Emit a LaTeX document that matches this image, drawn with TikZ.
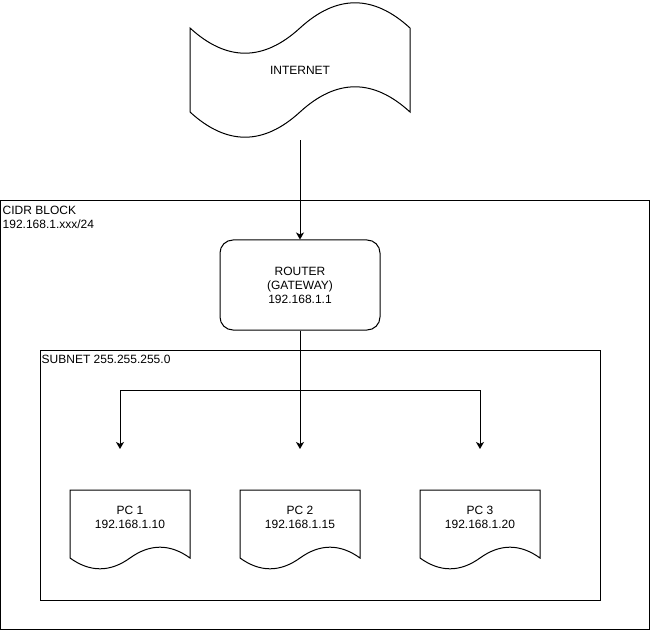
\documentclass[tikz,border=0pt]{standalone}
\usepackage{fontspec}
\setmainfont{Liberation Sans}
\usetikzlibrary{arrows.meta}
\tikzset{
  lbl/.style={font=\fontsize{12}{14}\selectfont, align=center, inner sep=0pt, text=black},
  lbll/.style={font=\fontsize{12}{14}\selectfont, align=left, inner sep=0pt, anchor=north west, text=black},
  frame/.style={draw=black, line width=1pt},
  conn/.style={draw=black, line width=1pt, -{Stealth[length=7pt,width=8pt,inset=2pt]}},
  plain/.style={draw=black, line width=1pt},
  routerbox/.style={draw=black, line width=1pt, rounded corners=13pt, minimum width=160pt, minimum height=90pt, inner sep=0pt, font=\fontsize{12}{14}\selectfont, align=center},
  ghost/.style={draw=none, inner sep=0pt, minimum width=#1}
}
\newcommand\docpath[1]{%
  \draw[frame, fill=white] (#1,490) -- (#1+120,490) -- (#1+120,558)
    .. controls (#1+100,543.6) and (#1+80,543.6) .. (#1+60,558)
    .. controls (#1+40,572.4) and (#1+20,572.4) .. (#1,558) -- cycle;}
\begin{document}
\begin{tikzpicture}[x=1pt,y=-1pt]
\useasboundingbox (0,0) rectangle (651,631);
% outer CIDR block
\draw[frame] (0.5,200.5) rectangle (649.5,629.5);
\node[lbll] (cidr) at (2.5,206) {CIDR BLOCK\\192.168.1.xxx/24};
% subnet
\draw[frame] (40.5,350.5) rectangle (600.5,600.5);
\node[lbll] (subnet) at (41.5,355) {SUBNET 255.255.255.0};
% internet tape
\draw[frame, fill=white] (190,28)
  .. controls (226.67,61.6) and (263.33,61.6) .. (300,28)
  .. controls (336.67,-5.6) and (373.33,-5.6) .. (410,28)
  -- (410,112)
  .. controls (373.33,78.4) and (336.67,78.4) .. (300,112)
  .. controls (263.33,145.6) and (226.67,145.6) .. (190,112) -- cycle;
\node[ghost=220pt, minimum height=140pt] (internet) at (300,70) {};
\node[lbl] (internettxt) at (300,70) {INTERNET};
% router
\node[routerbox] (router) at (300,285) {ROUTER\\(GATEWAY)\\192.168.1.1};
% PCs
\docpath{70}
\docpath{240}
\docpath{420}
\node[lbl] (pc1) at (130,517) {PC 1\\192.168.1.10};
\node[lbl] (pc2) at (300,517) {PC 2\\192.168.1.15};
\node[lbl] (pc3) at (480,517) {PC 3\\192.168.1.20};
% connector targets
\coordinate (t1) at (120,449);
\coordinate (t2) at (300,449);
\coordinate (t3) at (480,449);
\coordinate (split) at (300,390.5);
% connectors
\draw[conn] (internet.south) -- (router.north);
\draw[conn] (router.south) -- (t2);
\draw[conn] (split) -| (t1);
\draw[conn] (split) -| (t3);
\end{tikzpicture}
\end{document}
